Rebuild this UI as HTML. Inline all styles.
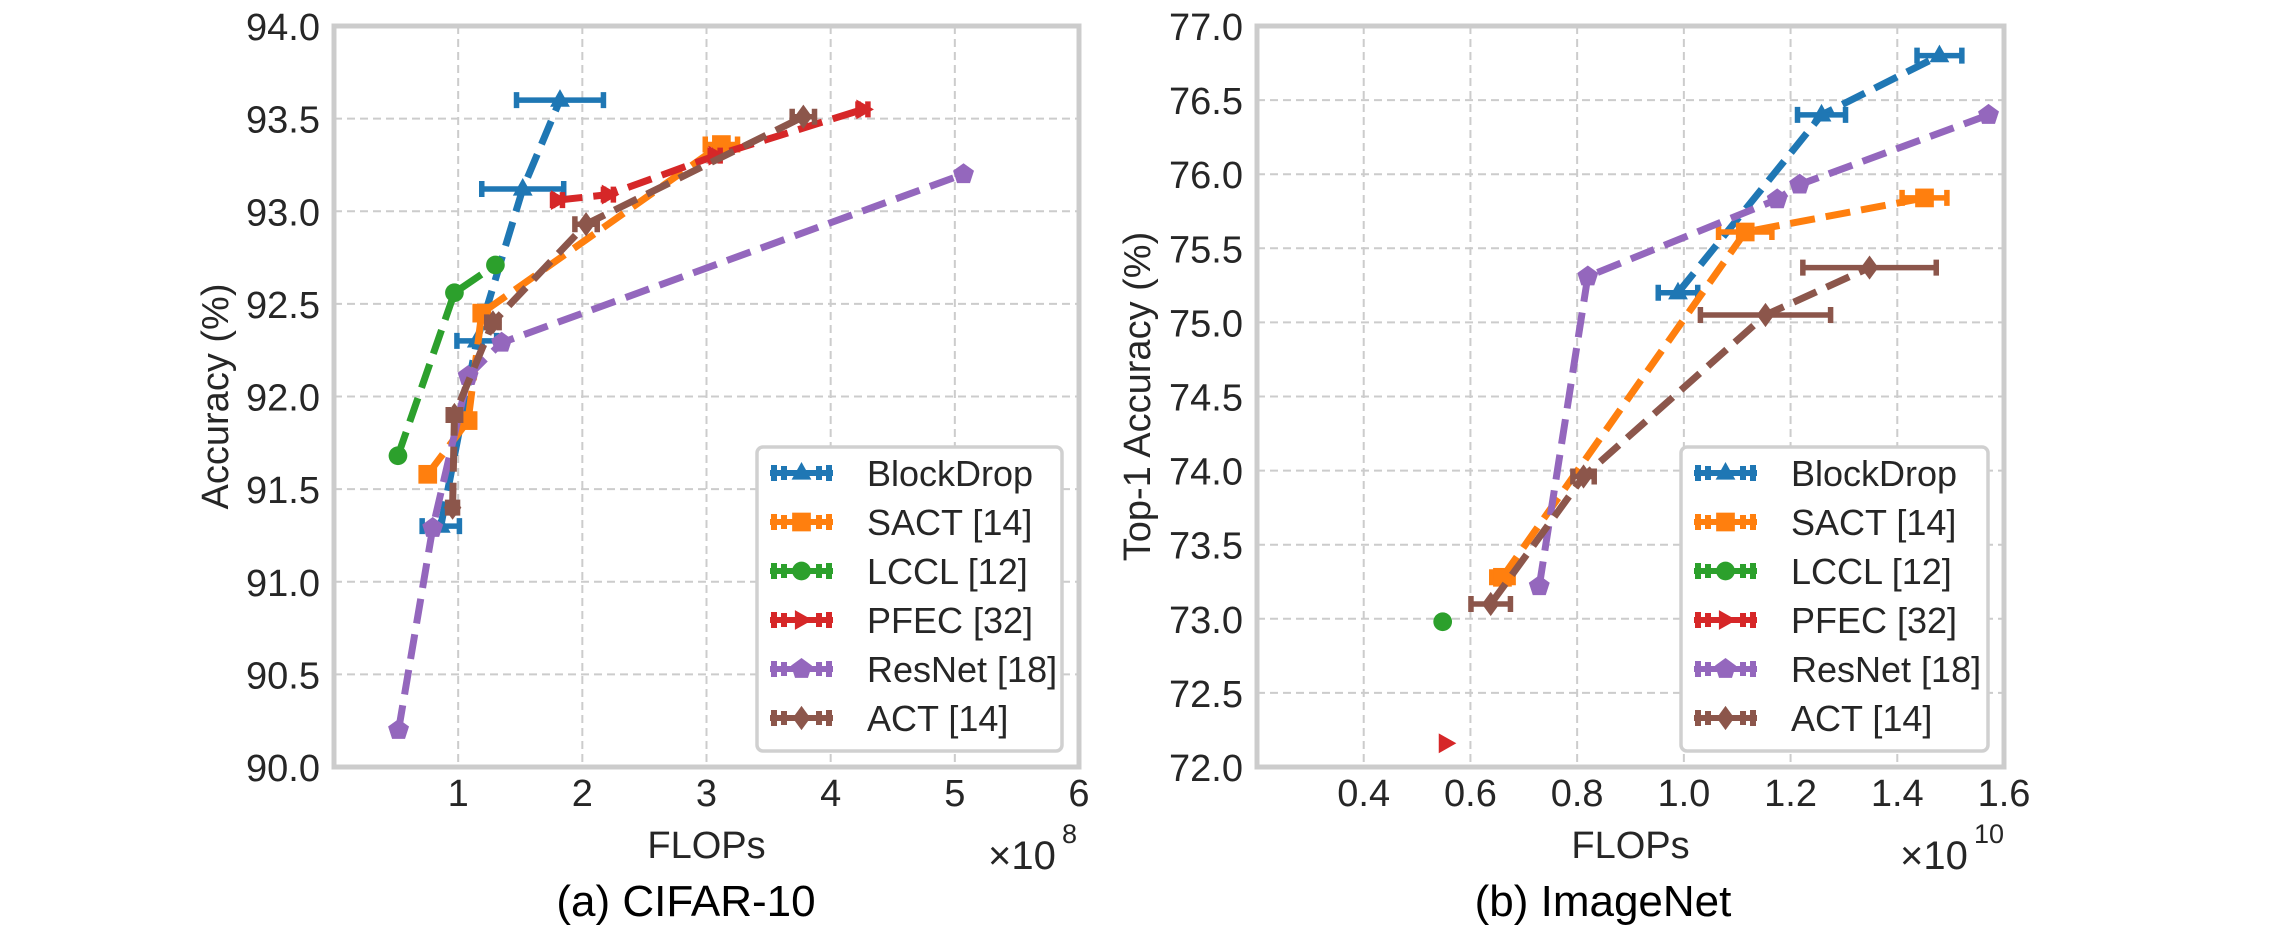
<!DOCTYPE html>
<html><head><meta charset="utf-8"><style>
html,body{margin:0;padding:0;background:#fff;}
svg{display:block;font-family:"Liberation Sans",Arial,sans-serif;}
</style></head><body>
<svg id="fig" width="2290" height="935" viewBox="0 0 2290 935" xmlns="http://www.w3.org/2000/svg"></svg>
<script>
// ---- Data: CIFAR-10 (x in 1e8 FLOPs) ----
const seriesNames = ["BlockDrop","SACT [14]","LCCL [12]","PFEC [32]","ResNet [18]","ACT [14]"];
const seriesKeys = ["blockdrop","sact","lccl","pfec","resnet","act"];
const cifarBlockDropX = [0.86,1.15,1.52,1.82];
const cifarBlockDropY = [91.3,92.3,93.12,93.6];
const cifarBlockDropErr = [0.15,0.16,0.33,0.35];
const cifarSactX = [0.755,1.08,1.19,3.12];
const cifarSactY = [91.58,91.87,92.45,93.36];
const cifarSactErr = [0.03,0.05,0.05,0.13];
const cifarLcclX = [0.515,0.97,1.30];
const cifarLcclY = [91.68,92.56,92.71];
const cifarLcclErr = [0,0,0];
const cifarPfecX = [1.80,2.21,3.07,4.26];
const cifarPfecY = [93.06,93.09,93.30,93.55];
const cifarPfecErr = [0.04,0.04,0.04,0.04];
const cifarResnetX = [0.52,0.795,1.08,1.35,5.07];
const cifarResnetY = [90.2,91.29,92.11,92.29,93.2];
const cifarResnetErr = [0,0,0,0,0];
const cifarActX = [0.955,0.97,1.28,2.03,3.78];
const cifarActY = [91.40,91.90,92.40,92.93,93.51];
const cifarActErr = [0.04,0.05,0.05,0.09,0.09];
// ---- Data: ImageNet (x in 1e10 FLOPs) ----
const imnBlockDropX = [0.989,1.258,1.479];
const imnBlockDropY = [75.20,76.40,76.80];
const imnBlockDropErr = [0.037,0.045,0.042];
const imnSactX = [0.66,1.115,1.451];
const imnSactY = [73.28,75.61,75.84];
const imnSactErr = [0.02,0.05,0.042];
const imnLcclX = [0.548];
const imnLcclY = [72.98];
const imnLcclErr = [0];
const imnPfecX = [0.553];
const imnPfecY = [72.16];
const imnPfecErr = [0];
const imnResnetX = [0.729,0.82,1.175,1.217,1.571];
const imnResnetY = [73.22,75.31,75.83,75.93,76.40];
const imnResnetErr = [0,0,0,0,0];
const imnActX = [0.638,0.812,1.153,1.348];
const imnActY = [73.10,73.96,75.05,75.37];
const imnActErr = [0.037,0.02,0.122,0.125];
const cifarXTicks = [1,2,3,4,5,6];
const cifarYTicks = [90.0,90.5,91.0,91.5,92.0,92.5,93.0,93.5,94.0];
const imnXTicks = [0.4,0.6,0.8,1.0,1.2,1.4,1.6];
const imnYTicks = [72.0,72.5,73.0,73.5,74.0,74.5,75.0,75.5,76.0,76.5,77.0];

const colors = ["#1f77b4","#ff7f0e","#2ca02c","#d62728","#9467bd","#8c564b"];
const markers = ["^","s","o",">","p","D"];
const NS = "http://www.w3.org/2000/svg";
const svg = document.getElementById("fig");
function mk(tag, attrs, parent){
  const e = document.createElementNS(NS, tag);
  for (const k in attrs) e.setAttribute(k, attrs[k]);
  (parent||svg).appendChild(e);
  return e;
}
function marker(g, type, cx, cy, r, col){
  let e;
  if (type==="o"){ e = mk("circle",{cx:cx,cy:cy,r:r*0.85,fill:col},g); }
  else if (type==="s"){ e = mk("rect",{x:cx-r*0.85,y:cy-r*0.85,width:r*1.7,height:r*1.7,fill:col},g); }
  else {
    let pts=[];
    if (type==="^") pts=[[0,-r],[r*0.9,r*0.6],[-r*0.9,r*0.6]];
    else if (type===">") pts=[[r,0],[-r*0.6,r*0.9],[-r*0.6,-r*0.9]];
    else if (type==="D") pts=[[0,-r*1.1],[r*0.8,0],[0,r*1.1],[-r*0.8,0]];
    else if (type==="p"){ for(let i=0;i<5;i++){const a=-Math.PI/2+i*2*Math.PI/5; pts.push([r*Math.cos(a),r*Math.sin(a)]);} }
    e = mk("polygon",{points:pts.map(p=>(cx+p[0])+","+(cy+p[1])).join(" "),fill:col},g);
  }
  return e;
}
function panel(cfg){
  const {L,R,T,B,xmin,xmax,ymin,ymax} = cfg;
  const sx = v => L + (v-xmin)/(xmax-xmin)*(R-L);
  const sy = v => B - (v-ymin)/(ymax-ymin)*(B-T);
  const g = mk("g",{});
  
  
  cfg.xticks.forEach(t=>{
    const x=sx(t);
    if (x>L+2 && x<R-2){
      const l=mk("line",{x1:x,y1:T,x2:x,y2:B,stroke:"#cccccc","stroke-width":2,"stroke-dasharray":"8,5"},g);
      
      
    }
    const tx=mk("text",{x:x,y:806,"font-size":38,fill:"#262626","text-anchor":"middle"},g);
    
    
    tx.textContent = cfg.xfmt(t);
  });
  cfg.yticks.forEach(t=>{
    const y=sy(t);
    if (y>T+2 && y<B-2){
      const l=mk("line",{x1:L,y1:y,x2:R,y2:y,stroke:"#cccccc","stroke-width":2,"stroke-dasharray":"8,5"},g);
      
      
    }
    const tx=mk("text",{x:L-14,y:y+14,"font-size":38,fill:"#262626","text-anchor":"end"},g);
    
    
    tx.textContent = t.toFixed(1);
  });
  cfg.series.forEach((s,i)=>{
    const sg = mk("g",{},g);
    
    
    const col=colors[i];
    if (s.x.length>1){
      const pl=mk("polyline",{points:s.x.map((v,j)=>sx(v)+","+sy(s.y[j])).join(" "),fill:"none",stroke:col,"stroke-width":7,"stroke-dasharray":"25,11"},sg);
      
      
    }
    s.x.forEach((v,j)=>{
      const cx=sx(v), cy=sy(s.y[j]);
      if (s.e[j]>0){
        const x1=sx(v-s.e[j]), x2=sx(v+s.e[j]);
        const eb=mk("path",{d:`M${x1},${cy}H${x2}M${x1},${cy-8}V${cy+8}M${x2},${cy-8}V${cy+8}`,stroke:col,"stroke-width":5.5,fill:"none"},sg);
        
        
      }
      const m=marker(sg, markers[i], cx, cy, 11, col);
      
      
    });
  });
  const fr=mk("rect",{x:L,y:T,width:R-L,height:B-T,fill:"none",stroke:"#cccccc","stroke-width":5},g);
  
  
  const lg=mk("g",{},g);
  
  
  mk("rect",{x:cfg.legX,y:447,width:cfg.legW,height:304,rx:6,fill:"#ffffff",stroke:"#d0d0d0","stroke-width":3.5},lg);
  seriesNames.forEach((n,i)=>{
    const y=473+i*49;
    const e=mk("g",{},lg);
    
    
    const hx1=cfg.legX+13, hx2=cfg.legX+76;
    mk("path",{d:`M${hx1},${y}H${hx2}M${hx1+4},${y-8}V${y+8}M${hx2-4},${y-8}V${y+8}M${hx1+14},${y-7}V${y+7}M${hx2-14},${y-7}V${y+7}`,stroke:colors[i],"stroke-width":6,fill:"none"},e);
    marker(e, markers[i], (hx1+hx2)/2, y, 11, colors[i]);
    const t=mk("text",{x:cfg.legX+110,y:y+13,"font-size":36,fill:"#262626"},e);
    t.textContent=n;
  });
  const xl=mk("text",{x:(L+R)/2,y:858,"font-size":38,fill:"#262626","text-anchor":"middle"},g);
  
  
  xl.textContent="FLOPs";
  const ex=mk("text",{x:cfg.expX,y:869,"font-size":40,fill:"#262626"},g);
  
  
  ex.textContent="×10";
  const sup=mk("text",{x:cfg.expX+74,y:843,"font-size":27,fill:"#262626"},g);
  
  
  sup.textContent=cfg.exp;
  const yl=mk("text",{x:0,y:0,"font-size":38,fill:"#262626","text-anchor":"middle",transform:`translate(${cfg.ylx},${(T+B)/2}) rotate(-90)`},g);
  
  
  yl.textContent=cfg.ylabel;
  const cap=mk("text",{x:cfg.capX,y:916,"font-size":44,fill:"#000","text-anchor":"middle"},g);
  
  
  cap.textContent=cfg.caption;
}
panel({name:"cifar10-chart",L:334,R:1079,T:26,B:767,xmin:0,xmax:6,ymin:90,ymax:94,
  xticks:cifarXTicks,yticks:cifarYTicks,xfmt:t=>String(t),
  series:[{x:cifarBlockDropX,y:cifarBlockDropY,e:cifarBlockDropErr},{x:cifarSactX,y:cifarSactY,e:cifarSactErr},
    {x:cifarLcclX,y:cifarLcclY,e:cifarLcclErr},{x:cifarPfecX,y:cifarPfecY,e:cifarPfecErr},
    {x:cifarResnetX,y:cifarResnetY,e:cifarResnetErr},{x:cifarActX,y:cifarActY,e:cifarActErr}],
  legX:757,legW:305,expX:988,exp:"8",ylx:228,ylabel:"Accuracy (%)",capX:686,caption:"(a) CIFAR-10"});
panel({name:"imagenet-chart",L:1257,R:2004,T:26,B:767,xmin:0.2,xmax:1.6,ymin:72,ymax:77,
  xticks:imnXTicks,yticks:imnYTicks,xfmt:t=>t.toFixed(1),
  series:[{x:imnBlockDropX,y:imnBlockDropY,e:imnBlockDropErr},{x:imnSactX,y:imnSactY,e:imnSactErr},
    {x:imnLcclX,y:imnLcclY,e:imnLcclErr},{x:imnPfecX,y:imnPfecY,e:imnPfecErr},
    {x:imnResnetX,y:imnResnetY,e:imnResnetErr},{x:imnActX,y:imnActY,e:imnActErr}],
  legX:1681,legW:307,expX:1900,exp:"10",ylx:1150,ylabel:"Top-1 Accuracy (%)",capX:1603,caption:"(b) ImageNet"});
</script>
</body></html>
